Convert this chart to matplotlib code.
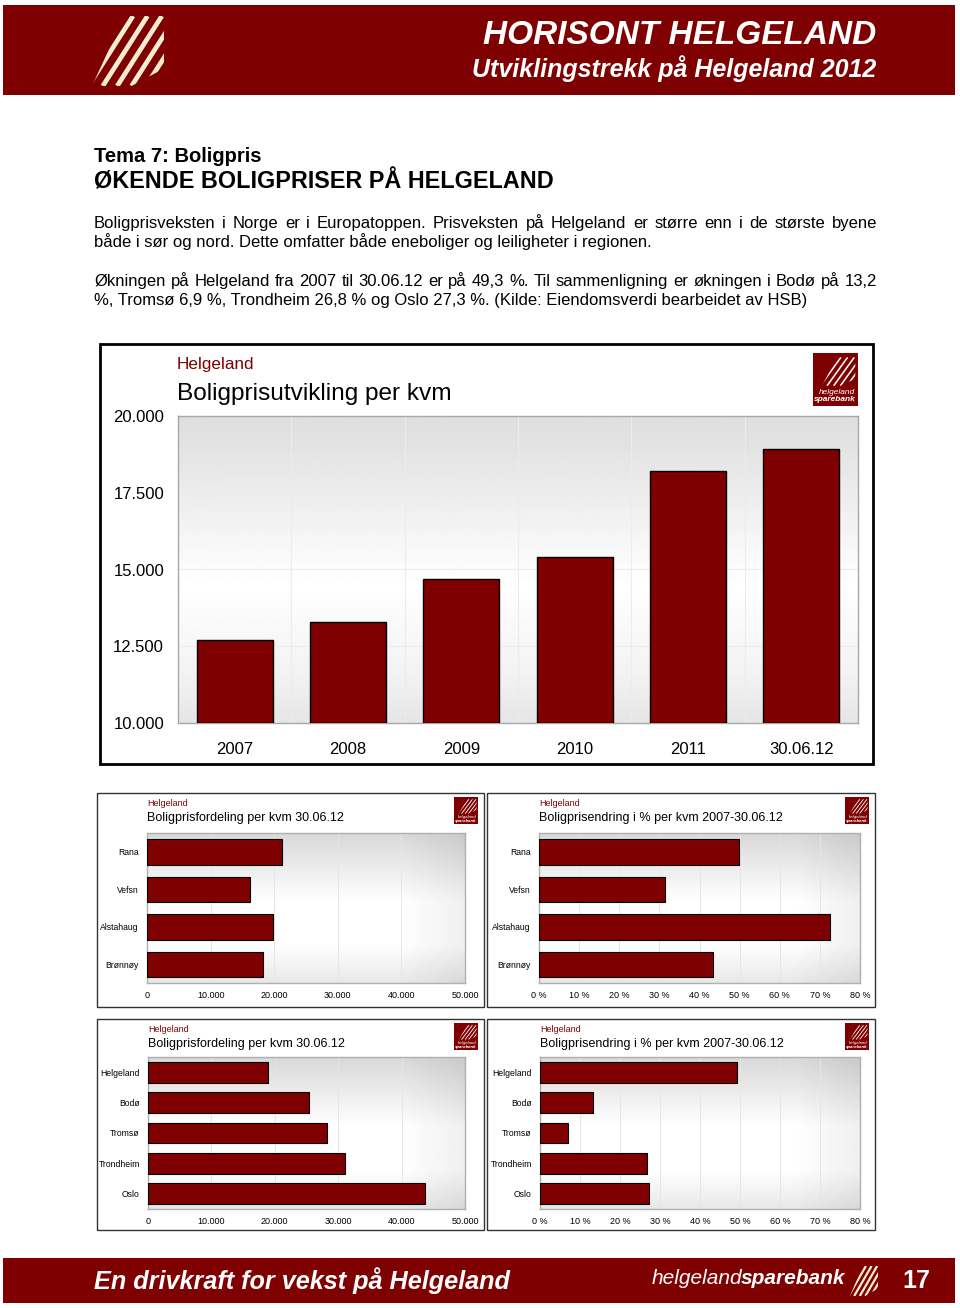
import matplotlib
matplotlib.use("Agg")
import matplotlib.pyplot as plt
from matplotlib.patches import Rectangle, Polygon
from matplotlib.lines import Line2D
import numpy as np

plt.rcParams['font.family'] = ['Liberation Sans', 'DejaVu Sans']

W, H = 960, 1308
RED = '#7f0000'

# --- data ---
years = ["2007", "2008", "2009", "2010", "2011", "30.06.12"]
price_per_kvm = [12700, 13290, 14690, 15410, 18210, 18925]

kommuner = ["Rana", "Vefsn", "Alstahaug", "Brønnøy"]
kommune_pris = [21250, 16250, 19750, 18250]
kommune_endring = [49.8, 31.5, 72.6, 43.4]

byer = ["Helgeland", "Bodø", "Tromsø", "Trondheim", "Oslo"]
by_pris = [18925, 25400, 28200, 31100, 43750]
by_endring = [49.3, 13.2, 6.9, 26.8, 27.3]

paragraph = [
    "Boligprisveksten i Norge er i Europatoppen. Prisveksten på Helgeland er større enn i de største byene",
    "både i sør og nord. Dette omfatter både eneboliger og leiligheter i regionen.",
    "Økningen på Helgeland fra 2007 til 30.06.12 er på 49,3 %. Til sammenligning er økningen i Bodø på 13,2",
    "%, Tromsø 6,9 %, Trondheim 26,8 % og Oslo 27,3 %. (Kilde: Eiendomsverdi bearbeidet av HSB)",
]
para_y = [223, 242, 281, 300]
para_justify = [True, False, True, False]


def rect(x0, y0, x1, y1):
    return [x0 / W, 1 - y1 / H, (x1 - x0) / W, (y1 - y0) / H]


fig = plt.figure(figsize=(W / 100, H / 100), dpi=100)
bg = fig.add_axes([0, 0, 1, 1])
bg.set_xlim(0, W)
bg.set_ylim(H, 0)
bg.axis("off")
renderer = fig.canvas.get_renderer()


def stripes(x0, y0, x1, y1, color, n=7, lw=2.5):
    # diagonal stripe logo, clipped to a shape with a straight top and right edge
    w, h = x1 - x0, y1 - y0
    clip = Polygon([(x0, y1), (x0 + 0.45 * w, y0), (x1, y0), (x1, y0 + 0.75 * h),
                    (x0 + 0.55 * w, y1)], closed=True, transform=bg.transData,
                   facecolor='none', edgecolor='none')
    bg.add_patch(clip)
    for k in range(n):
        s = -0.25 + k * 0.2
        ln = Line2D([x0 + s * w, x0 + (s + 0.62) * w], [y1, y0], color=color, lw=lw,
                    solid_capstyle='butt')
        bg.add_line(ln)
        ln.set_clip_path(clip)


def bank_logo(x0, y0, x1, y1, text=True):
    bg.add_patch(Rectangle((x0, y0), x1 - x0, y1 - y0, facecolor=RED, edgecolor='none'))
    w, h = x1 - x0, y1 - y0
    stripes(x0 + 0.2 * w, y0 + 0.08 * h, x1 - 0.06 * w, y0 + 0.62 * h, 'white', n=7,
            lw=max(0.6, w / 40))
    if text:
        bg.text(x1 - 0.06 * w, y0 + 0.74 * h, "helgeland", color='white', fontsize=w / 7.5,
                style='italic', ha='right', va='center')
        bg.text(x1 - 0.06 * w, y0 + 0.88 * h, "sparebank", color='white', fontsize=w / 7.5,
                style='italic', weight='bold', ha='right', va='center')


def text_width(t):
    return t.get_window_extent(renderer).width


def justified(x0, x1, y, line, **kw):
    words = line.split(" ")
    ts = [bg.text(0, y, w, va='baseline', **kw) for w in words]
    widths = [text_width(t) for t in ts]
    gap = (x1 - x0 - sum(widths)) / (len(words) - 1)
    x = x0
    for t, wd in zip(ts, widths):
        t.set_x(x)
        x += wd + gap


# header band
bg.add_patch(Rectangle((3, 5), 952, 90, facecolor=RED, edgecolor='none'))
stripes(92, 16, 164, 86, '#f3ecd0', n=7, lw=3.4)
bg.text(876, 35, "HORISONT HELGELAND", color='white', fontsize=24, weight='bold',
        style='italic', ha='right', va='center')
bg.text(876, 69, "Utviklingstrekk på Helgeland 2012", color='white', fontsize=18,
        weight='bold', style='italic', ha='right', va='center')

# footer band
bg.add_patch(Rectangle((3, 1258), 952, 45, facecolor=RED, edgecolor='none'))
bg.text(94, 1281, "En drivkraft for vekst på Helgeland", color='white', fontsize=18.2,
        weight='bold', style='italic', ha='left', va='center')
t1 = bg.text(652, 1278, "helgeland", color='white', fontsize=15, style='italic',
             ha='left', va='center')
bg.text(652 + text_width(t1) - 2, 1278, "sparebank", color='white', fontsize=15,
        style='italic', weight='bold', ha='left', va='center')
stripes(850, 1266, 878, 1296, '#f3ecd0', n=6, lw=1.6)
bg.text(916, 1281, "17", color='white', fontsize=18, weight='bold', ha='center', va='center')

# headings and paragraph
bg.text(94, 157, "Tema 7: Boligpris", fontsize=14.5, weight='bold', va='center')
bg.text(94, 182, "ØKENDE BOLIGPRISER PÅ HELGELAND", fontsize=16.8, weight='bold', va='center')
for line, y, just in zip(paragraph, para_y, para_justify):
    if just:
        justified(94, 877, y + 5, line, fontsize=12)
    else:
        bg.text(94, y + 5, line, fontsize=12, va='baseline')

# main chart
bg.add_patch(Rectangle((100, 344), 773, 420, facecolor='white', edgecolor='black', lw=2))
bg.text(177, 365, "Helgeland", color=RED, fontsize=12.3, va='center')
bg.text(177, 394, "Boligprisutvikling per kvm", fontsize=17.6, va='center')
bank_logo(813, 353, 858, 406)

ax = fig.add_axes(rect(178, 416, 858, 723))
grad = np.interp(np.linspace(0, 1, 200), [0, 0.1, 0.55, 0.85, 1], [0.87, 0.89, 1.0, 0.95, 0.9])
ax.imshow(grad[:, None], extent=[-0.5, 5.5, 10000, 20000], aspect='auto', cmap='gray',
          vmin=0, vmax=1, zorder=0)
x = np.arange(len(years))
ax.bar(x, np.array(price_per_kvm) - 10000, bottom=10000, width=0.67, color=RED,
       edgecolor='black', lw=1, zorder=3)
ax.set_xlim(-0.5, 5.5)
ax.set_ylim(10000, 20000)
yt = np.arange(10000, 20001, 2500)
ax.set_yticks(yt)
ax.set_yticklabels([f"{v:,}".replace(",", ".") for v in yt], fontsize=12)
ax.set_xticks(x)
ax.set_xticklabels(years, fontsize=12)
ax.set_xticks(x[:-1] + 0.5, minor=True)
ax.tick_params(axis='both', which='both', length=0)
ax.tick_params(axis='y', pad=10)
ax.tick_params(axis='x', pad=14)
ax.grid(which='minor', axis='x', color='#ececec', lw=0.8)
ax.grid(which='major', axis='y', color='#ececec', lw=0.8)
ax.set_axisbelow(True)
for sp in ax.spines.values():
    sp.set_color('#a8a8a8')
    sp.set_linewidth(1)


def small_chart(box, plot, cats, vals, xmax, step, fmt, title):
    bx0, by0, bx1, by1 = box
    bg.add_patch(Rectangle((bx0, by0), bx1 - bx0, by1 - by0, facecolor='white',
                           edgecolor='#333333', lw=1))
    px0, py0, px1, py1 = plot
    bg.text(px0, by0 + 10, "Helgeland", color=RED, fontsize=6.5, va='center')
    bg.text(px0, by0 + 25, title, fontsize=9, va='center')
    bank_logo(bx1 - 30, by0 + 4, bx1 - 6, by0 + 31)
    a = fig.add_axes(rect(px0, py0, px1, py1))
    yy, xx = np.mgrid[0:1:100j, 0:1:100j]
    g = 1.0 - 0.15 * np.clip(np.maximum(1 - yy / 0.45, (yy - 0.75) / 0.25 * 0.6), 0, 1)
    g = g - 0.06 * np.clip((xx - 0.8) / 0.2, 0, 1)
    n = len(cats)
    a.imshow(g, extent=[0, xmax, n - 0.5, -0.5], aspect='auto', cmap='gray', vmin=0,
             vmax=1, zorder=0)
    a.barh(np.arange(n), vals, height=0.68, color=RED, edgecolor='black', lw=0.8, zorder=3)
    a.set_xlim(0, xmax)
    a.set_ylim(n - 0.5, -0.5)
    xt = np.arange(0, xmax + step / 2, step)
    a.set_xticks(xt)
    a.set_xticklabels([fmt(v) for v in xt], fontsize=6.5)
    a.set_yticks(np.arange(n))
    a.set_yticklabels(cats, fontsize=6.2)
    a.tick_params(axis='both', length=0)
    a.tick_params(axis='y', pad=6)
    a.tick_params(axis='x', pad=6)
    a.grid(axis='x', color='#e6e6e6', lw=0.7)
    a.set_axisbelow(True)
    for sp in a.spines.values():
        sp.set_color('#b0b0b0')
        sp.set_linewidth(1)
    return a


kr = lambda v: "0" if v == 0 else f"{int(v):,}".replace(",", ".")
pct = lambda v: f"{int(v)} %"

small_chart((97, 793, 484, 1007), (147, 833, 465, 983), kommuner, kommune_pris, 50000, 10000,
            kr, "Boligprisfordeling per kvm 30.06.12")
small_chart((487, 793, 875, 1007), (539, 833, 860, 983), kommuner, kommune_endring, 80, 10,
            pct, "Boligprisendring i % per kvm 2007-30.06.12")
small_chart((97, 1019, 484, 1230), (148, 1057, 465, 1209), byer, by_pris, 50000, 10000,
            kr, "Boligprisfordeling per kvm 30.06.12")
small_chart((487, 1019, 875, 1230), (540, 1057, 860, 1209), byer, by_endring, 80, 10,
            pct, "Boligprisendring i % per kvm 2007-30.06.12")

fig.savefig("out.png", dpi=100)
